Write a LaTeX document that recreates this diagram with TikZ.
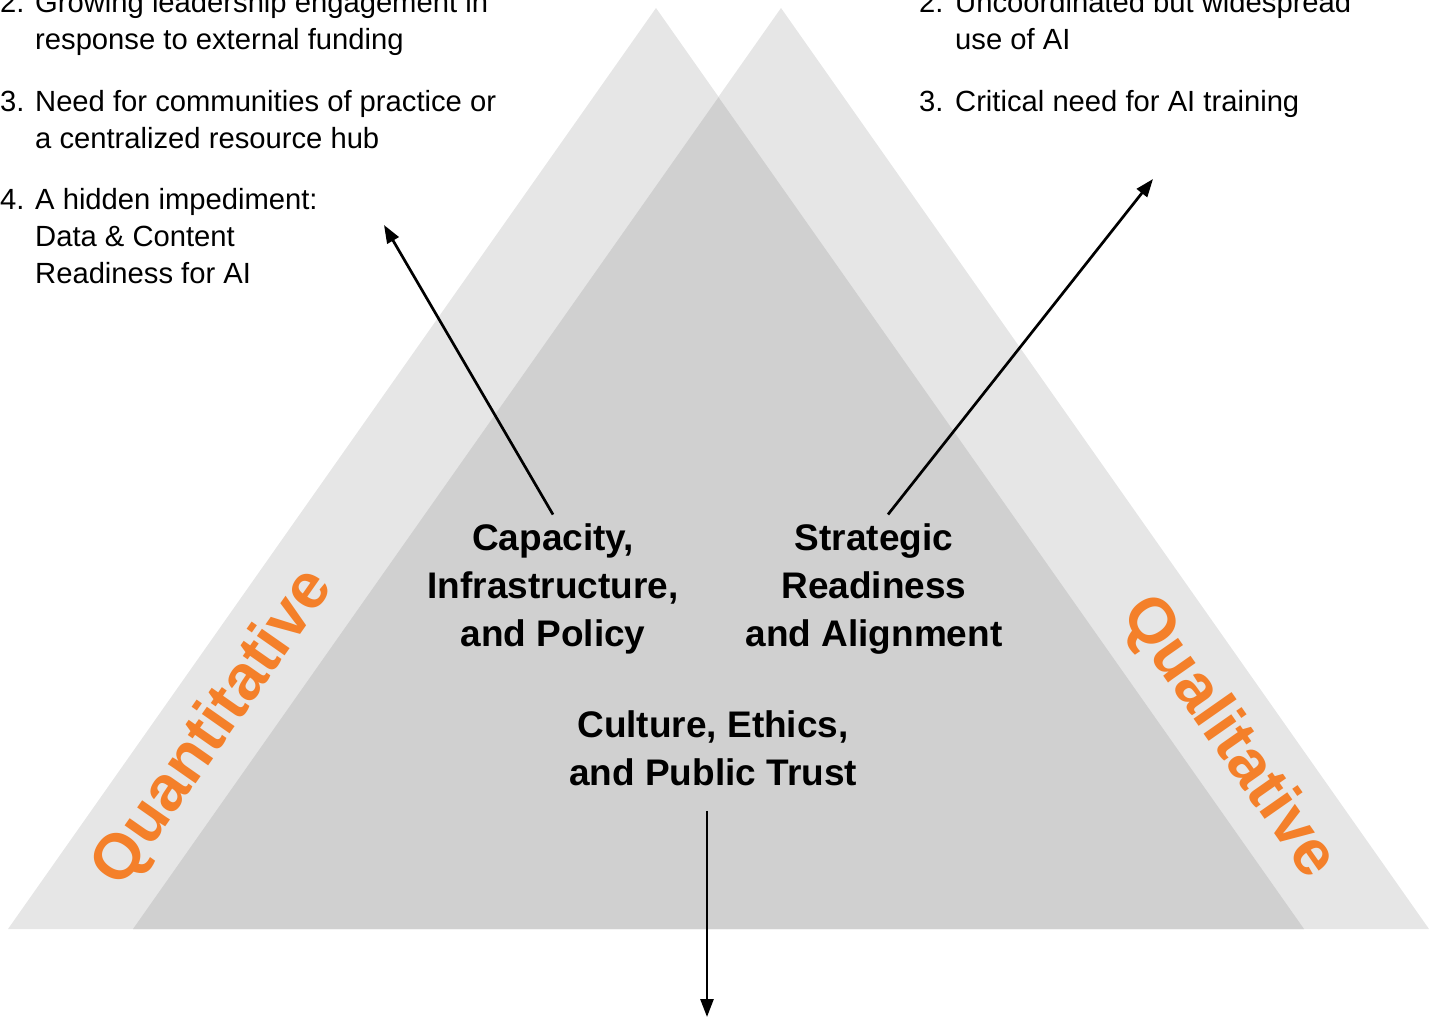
\documentclass[tikz,border=0pt]{standalone}
\usepackage{fontspec}
\setmainfont{Liberation Sans}
\usetikzlibrary{arrows.meta}
\definecolor{paleGray}{HTML}{E6E6E6}
\definecolor{midGray}{HTML}{D0D0D0}
\definecolor{accentOrange}{RGB}{244,128,42}
\begin{document}
\begin{tikzpicture}[x=1pt,y=-1pt,
  list/.style={anchor=base west, inner sep=0pt, font=\fontsize{29.2}{37}\selectfont},
  pillar/.style={align=center, inner sep=9pt, font=\bfseries\fontsize{37}{48}\selectfont},
  axis label/.style={text=accentOrange, inner sep=0pt, font=\bfseries\fontsize{64}{76}\selectfont},
  link/.style={line width=2.7pt, -{Triangle[length=18pt,width=13pt]}}]
\useasboundingbox (0,0) rectangle (1434,1019);

% two overlapping triangles and their shared region
\fill[paleGray] (8,929) -- (656,8) -- (1304,929) -- cycle;
\fill[paleGray] (133,929) -- (781,8) -- (1429,929) -- cycle;
\fill[midGray] (133,929) -- (718.5,97.2) -- (1304,929) -- cycle;

% findings lists
\node[list] (leftList) at (0,12.5) {\begin{tabular}[t]{@{}l@{}l@{}}
\makebox[35pt][l]{2.} & Growing leadership engagement in\\
  & response to external funding\\[25pt]
\makebox[35pt][l]{3.} & Need for communities of practice or\\
  & a centralized resource hub\\[24pt]
\makebox[35pt][l]{4.} & A hidden impediment:\\
  & Data \& Content\\
  & Readiness for AI
\end{tabular}};

\node[list] (rightList) at (919,12.5) {\begin{tabular}[t]{@{}l@{}l@{}}
\makebox[36pt][l]{2.} & Uncoordinated but widespread\\
  & use of AI\\[25pt]
\makebox[36pt][l]{3.} & Critical need for AI training
\end{tabular}};

% dimension labels
\node[pillar] (cap) at (553,589) {Capacity,\\Infrastructure,\\and Policy};
\node[pillar] (str) at (874,589) {Strategic\\Readiness\\and Alignment};
\node[pillar] (cult) at (713,748) {Culture, Ethics,\\and Public Trust};

% method labels along the sides
\node[axis label, rotate=55] (quant) at (214,728) {Quantitative};
\node[axis label, rotate=-55] (qual) at (1228,738) {Qualitative};

% connectors
\coordinate (capEnd) at (384,225);
\coordinate (strEnd) at (1153,179);
\coordinate (cultEnd) at (707,1017);
\draw[link] (cap.north) -- (capEnd);
\draw[link] ([xshift=14pt]str.north) -- (strEnd);
\draw[link] ([xshift=-6pt,yshift=-16pt]cult.south) -- (cultEnd);
\end{tikzpicture}
\end{document}
